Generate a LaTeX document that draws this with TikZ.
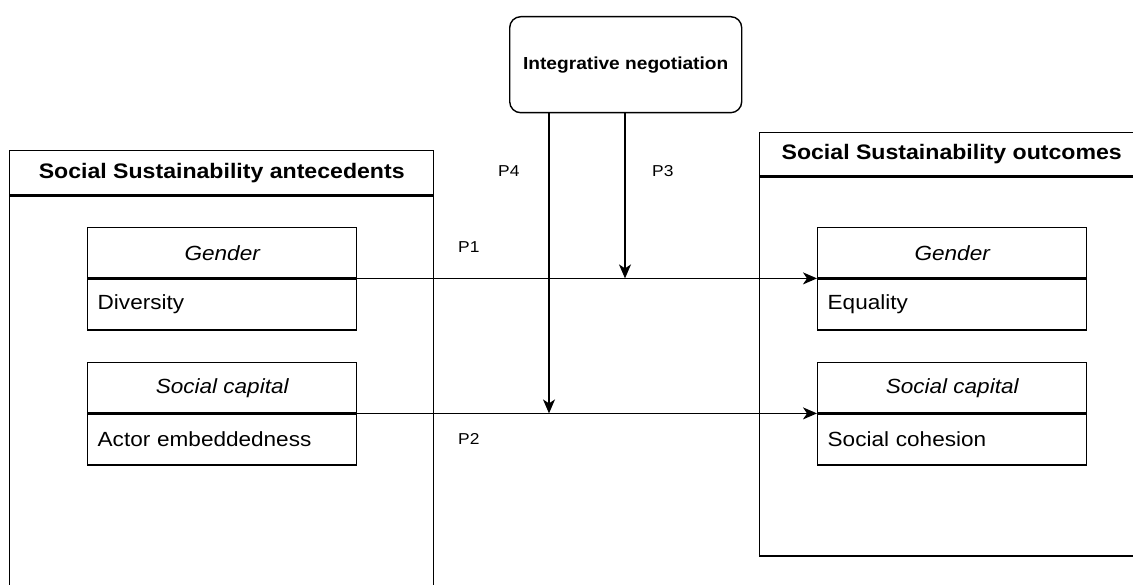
\documentclass[tikz,border=0pt]{standalone}
\usepackage{fontspec}
\setmainfont{Liberation Sans}[FakeStretch=1.1]
\usetikzlibrary{arrows.meta}
\begin{document}
\begin{tikzpicture}[x=1pt,y=-1pt,
  lw/.style={line width=1.4pt},
  box/.style={draw,lw,rectangle,inner sep=0pt,anchor=north west},
  headtxt/.style={box,font=\fontsize{21}{25}\selectfont\bfseries},
  comptop/.style={box,minimum width=269pt,minimum height=50pt,font=\fontsize{20.5}{24}\selectfont\itshape},
  compbot/.style={box,minimum width=269pt,minimum height=51pt,text width=249pt,inner xsep=10pt,align=left,font=\fontsize{20.5}{24}\selectfont},
  plabel/.style={font=\fontsize{15.8}{19}\selectfont,anchor=west,inner sep=0pt},
  arr/.style={lw,-{Stealth[length=14pt,width=12pt,inset=4pt]}}
]
\useasboundingbox (0,0) rectangle (1133,585);
\clip (0,0) rectangle (1133,585);
% left container
\node[box,minimum width=424pt,minimum height=44pt,headtxt] (lhead) at (9,150) {Social Sustainability antecedents};
\node[box,minimum width=424pt,minimum height=460pt] (lbody) at (lhead.south west) {};
% right container
\node[box,minimum width=384pt,minimum height=43pt,headtxt] (rhead) at (759,132) {Social Sustainability outcomes};
\node[box,minimum width=384pt,minimum height=379pt] (rbody) at (rhead.south west) {};
% top box
\node[draw,lw,rounded corners=11pt,minimum width=232pt,minimum height=96pt,anchor=north west,font=\fontsize{17.4}{21}\selectfont\bfseries] (neg) at (509,16) {Integrative negotiation};
% left compartments
\node[comptop] (gl) at (87,227) {Gender};
\node[compbot] (dl) at (gl.south west) {Diversity};
\node[comptop] (sl) at (87,362) {Social capital};
\node[compbot] (al) at (sl.south west) {Actor embeddedness};
% right compartments
\node[comptop] (gr) at (817,227) {Gender};
\node[compbot] (er) at (gr.south west) {Equality};
\node[comptop] (sr) at (817,362) {Social capital};
\node[compbot] (cr) at (sr.south west) {Social cohesion};
% connectors
\draw[arr] (gl.south east) -- (gr.south west);
\draw[arr] (sl.south east) -- (sr.south west);
\coordinate (x3) at (625,0);
\coordinate (x4) at (549,0);
\coordinate (p3end) at (gl.south -| x3);
\coordinate (p4end) at (sl.south -| x4);
\draw[arr] (neg.south -| x3) -- (p3end);
\draw[arr] (neg.south -| x4) -- (p4end);
% labels
\node[plabel] (p4) at (498,171) {P4};
\node[plabel] (p3) at (652,171) {P3};
\node[plabel] (p1) at (458,247) {P1};
\node[plabel] (p2) at (458,439) {P2};
\end{tikzpicture}
\end{document}
